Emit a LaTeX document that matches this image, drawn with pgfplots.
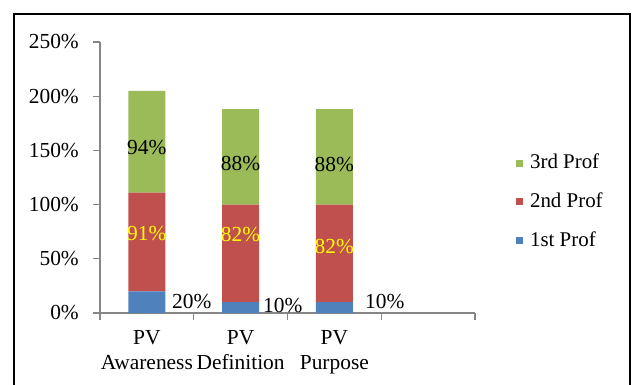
\documentclass[border=0pt]{standalone}
\usepackage{pgfplots}
\pgfplotsset{compat=1.18}
\usepackage{fontspec}
\setmainfont{Liberation Serif}
\definecolor{c1}{HTML}{4F81BD}
\definecolor{c2}{HTML}{C0504D}
\definecolor{c3}{HTML}{9BBB59}
\definecolor{axgray}{HTML}{868686}
\definecolor{lbly}{HTML}{FFFF00}
\begin{document}
\fontsize{21}{26}\selectfont
\begin{tikzpicture}
\useasboundingbox (0,0) rectangle (633bp,385bp);
\draw[line width=1.2bp] (14bp,-2bp) -- (14bp,371bp) -- (630bp,371bp) -- (630bp,-2bp);
\begin{axis}[
  at={(100bp,72bp)}, anchor=south west,
  scale only axis, width=375bp, height=271bp,
  ybar stacked, bar width=37bp,
  xmin=0.5, xmax=4.5, ymin=0, ymax=250,
  axis x line*=bottom, axis y line*=left,
  axis line style={axgray, line width=1.3bp},
  tick align=outside, major tick length=7bp,
  tick style={axgray, line width=1.3bp},
  xtick={0.5,1.5,2.5,3.5,4.5}, xticklabels={,,,,},
  extra x ticks={1,2,3},
  extra x tick labels={{PV\\Awareness},{PV\\Definition},{PV\\Purpose}},
  extra x tick style={major tick length=0pt, tick label style={align=center, yshift=-10bp, font=\fontsize{21.5}{25}\selectfont}},
  ytick={0,50,100,150,200,250},
  yticklabel={\pgfmathprintnumber{\tick}\%},
  y tick label style={font=\fontsize{21.5}{24}\selectfont, xshift=-7bp},
  /pgf/number format/assume math mode=true,
  legend image code/.code={\fill[#1] (0bp,-3.5bp) rectangle (7bp,3.5bp);},
  reverse legend,
  legend cell align=left,
  legend style={draw=none, fill=none, at={(1.109,0.41)}, anchor=west, inner sep=0pt, row sep=19bp, column sep=6bp,
    font=\fontsize{21}{24}\selectfont, nodes={inner sep=1bp}},
]
\addplot[fill=c1, draw=none] coordinates {(1,20) (2,10) (3,10)};
\addplot[fill=c2, draw=none] coordinates {(1,91) (2,90) (3,90)};
\addplot[fill=c3, draw=none] coordinates {(1,94) (2,88) (3,88)};
\legend{1st Prof, 2nd Prof, 3rd Prof}
\coordinate (r1) at (axis cs:1,73);
\coordinate (r2) at (axis cs:2,72);
\coordinate (r3) at (axis cs:3,61);
\coordinate (g1) at (axis cs:1,153);
\coordinate (g2) at (axis cs:2,138);
\coordinate (g3) at (axis cs:3,137);
\coordinate (b1) at (axis cs:1.268,11);
\coordinate (b2) at (axis cs:2.239,7);
\coordinate (b3) at (axis cs:3.326,11);
\end{axis}
\begin{scope}[every node/.style={font=\fontsize{21.5}{24}\selectfont}]
\node[text=lbly] at (r1) {91\%};
\node[text=lbly] at (r2) {82\%};
\node[text=lbly] at (r3) {82\%};
\node at (g1) {94\%};
\node at (g2) {88\%};
\node at (g3) {88\%};
\node[anchor=west, inner sep=0pt] at (b1) {20\%};
\node[anchor=west, inner sep=0pt] at (b2) {10\%};
\node[anchor=west, inner sep=0pt] at (b3) {10\%};
\end{scope}
\end{tikzpicture}
\end{document}
